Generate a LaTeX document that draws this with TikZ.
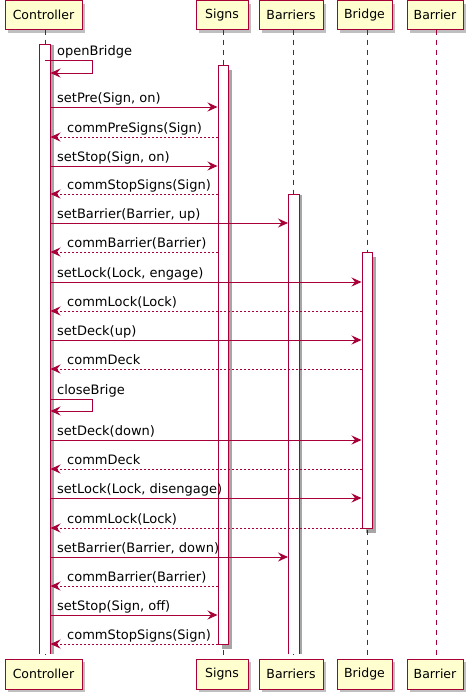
\documentclass[tikz,border=0pt]{standalone}
\usepackage{fontspec}
\setmainfont{DejaVu Sans}
\usepackage{tikz}
\usetikzlibrary{arrows.meta,shadows}

\definecolor{umlred}{HTML}{A80036}
\definecolor{umlfill}{HTML}{FEFECE}

\begin{document}
\begin{tikzpicture}[x=1pt, y=-1pt,
    part/.style={rectangle, draw=umlred, fill=umlfill, line width=1pt, inner sep=0pt,
        minimum height=29pt, font=\fontsize{12.5}{15}\selectfont,
        drop shadow={shadow xshift=3pt, shadow yshift=-3pt, fill=black, opacity=0.25}},
    actbar/.style={rectangle, fill=white, line width=1pt, inner sep=0pt,
        minimum width=10pt, anchor=north},
    act/.style={actbar, draw=umlred,
        drop shadow={shadow xshift=3.5pt, shadow yshift=-4pt, fill=black, opacity=0.35}},
    openact/.style={actbar,
        drop shadow={shadow xshift=3.5pt, shadow yshift=0pt, fill=black, opacity=0.35}},
    actside/.style={umlred, line width=1pt},
    life/.style={umlred, line width=0.8pt, dash pattern=on 5pt off 5pt},
    msg/.style={umlred, line width=0.9pt, -{Stealth[length=10pt, width=9pt, inset=3.5pt]}},
    ret/.style={msg, dash pattern=on 2pt off 2pt},
    lbl/.style={anchor=base west, inner sep=0pt, font=\fontsize{13}{15}\selectfont}]

    % Fix the page size
    \useasboundingbox (0,0) rectangle (472,696);

    % Participants, top and bottom
    \node[part, minimum width=77pt] (ctrl) at (43.5,15) {Controller};
    \node[part, minimum width=52pt] (signs) at (222,15) {Signs};
    \node[part, minimum width=64pt] (bars) at (291,15) {Barriers};
    \node[part, minimum width=55pt] (bridge) at (364.5,15) {Bridge};
    \node[part, minimum width=56pt] (barrier) at (435,15) {Barrier};

    \node[part, minimum width=77pt, minimum height=30pt] (ctrlbot) at (43.5,674) {Controller};
    \node[part, minimum width=52pt, minimum height=30pt] (signsbot) at (222,674) {Signs};
    \node[part, minimum width=64pt, minimum height=30pt] (barsbot) at (291,674) {Barriers};
    \node[part, minimum width=55pt, minimum height=30pt] (bridgebot) at (364.5,674) {Bridge};
    \node[part, minimum width=56pt, minimum height=30pt] (barrierbot) at (435,674) {Barrier};

    % Lifelines
    \draw[life] (45,29.5) -- (45,659);
    \draw[life] (223,29.5) -- (223,659);
    \draw[life] (293.5,29.5) -- (293.5,659);
    \draw[life] (367,29.5) -- (367,659);
    \draw[life] (436.5,29.5) -- (436.5,659);

    % Activation bars (the two long ones stay open at the bottom)
    \node[openact, minimum height=609pt] (ctrlact) at (45,44) {};
    \draw[actside] (ctrlact.south west) -- (ctrlact.north west) -- (ctrlact.north east) -- (ctrlact.south east);
    \node[act, minimum height=579pt] (signsact) at (223,65) {};
    \node[openact, minimum height=459pt] (barsact) at (293.5,194) {};
    \draw[actside] (barsact.south west) -- (barsact.north west) -- (barsact.north east) -- (barsact.south east);
    \node[act, minimum height=276pt] (bridgeact) at (367,252) {};

    % Opening the bridge
    \draw[msg] (ctrlact.north |- 0,60) -- ++(47,0) -- ++(0,13) -- (ctrlact.east |- 0,73);
    \node[lbl] (l1) at (57,55.5) {openBridge};
    \draw[msg] (ctrlact.east |- 0,107) -- (signsact.west |- 0,107);
    \node[lbl] (l2) at (57,102) {setPre(Sign, on)};
    \draw[ret] (signsact.west |- 0,137) -- (ctrlact.east |- 0,137);
    \node[lbl] (l3) at (67,132) {commPreSigns(Sign)};
    \draw[msg] (ctrlact.east |- 0,166) -- (signsact.west |- 0,166);
    \node[lbl] (l4) at (57,161) {setStop(Sign, on)};
    \draw[ret] (signsact.west |- 0,194) -- (ctrlact.east |- 0,194);
    \node[lbl] (l5) at (67,189) {commStopSigns(Sign)};
    \draw[msg] (ctrlact.east |- 0,223) -- (barsact.west |- 0,223);
    \node[lbl] (l6) at (57,218) {setBarrier(Barrier, up)};
    \draw[ret] (signsact.west |- 0,252) -- (ctrlact.east |- 0,252);
    \node[lbl] (l7) at (67,247) {commBarrier(Barrier)};
    \draw[msg] (ctrlact.east |- 0,282) -- (bridgeact.west |- 0,282);
    \node[lbl] (l8) at (57,277) {setLock(Lock, engage)};
    \draw[ret] (bridgeact.west |- 0,311) -- (ctrlact.east |- 0,311);
    \node[lbl] (l9) at (67,306) {commLock(Lock)};
    \draw[msg] (ctrlact.east |- 0,340) -- (bridgeact.west |- 0,340);
    \node[lbl] (l10) at (57,335) {setDeck(up)};
    \draw[ret] (bridgeact.west |- 0,369) -- (ctrlact.east |- 0,369);
    \node[lbl] (l11) at (67,364) {commDeck};

    % Closing the bridge
    \draw[msg] (ctrlact.east |- 0,399) -- ++(42,0) -- ++(0,12) -- (ctrlact.east |- 0,411);
    \node[lbl] (l12) at (57,394.5) {closeBrige};
    \draw[msg] (ctrlact.east |- 0,440) -- (bridgeact.west |- 0,440);
    \node[lbl] (l13) at (57,435) {setDeck(down)};
    \draw[ret] (bridgeact.west |- 0,469) -- (ctrlact.east |- 0,469);
    \node[lbl] (l14) at (67,464) {commDeck};
    \draw[msg] (ctrlact.east |- 0,498) -- (bridgeact.west |- 0,498);
    \node[lbl] (l15) at (57,493) {setLock(Lock, disengage)};
    \draw[ret] (bridgeact.west |- 0,528) -- (ctrlact.east |- 0,528);
    \node[lbl] (l16) at (67,523) {commLock(Lock)};
    \draw[msg] (ctrlact.east |- 0,557) -- (barsact.west |- 0,557);
    \node[lbl] (l17) at (57,552) {setBarrier(Barrier, down)};
    \draw[ret] (signsact.west |- 0,586) -- (ctrlact.east |- 0,586);
    \node[lbl] (l18) at (67,581) {commBarrier(Barrier)};
    \draw[msg] (ctrlact.east |- 0,615) -- (signsact.west |- 0,615);
    \node[lbl] (l19) at (57,610) {setStop(Sign, off)};
    \draw[ret] (signsact.west |- 0,644) -- (ctrlact.east |- 0,644);
    \node[lbl] (l20) at (67,639) {commStopSigns(Sign)};
\end{tikzpicture}
\end{document}
